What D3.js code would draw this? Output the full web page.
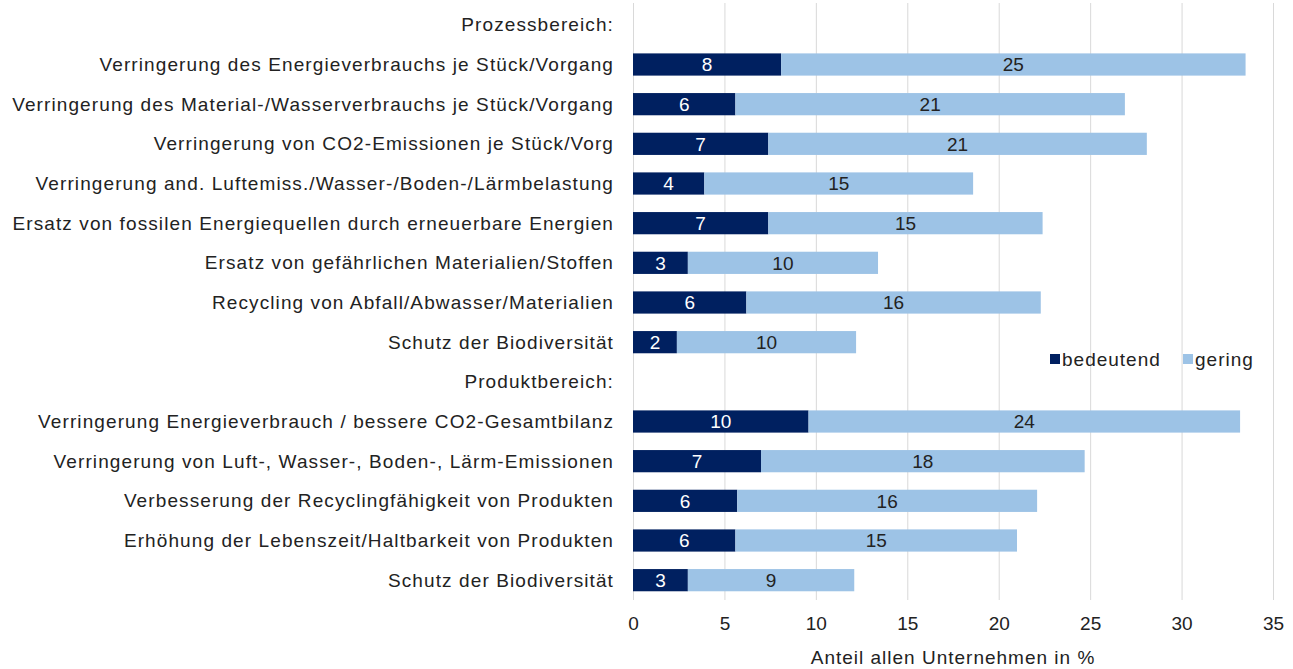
<!DOCTYPE html>
<html>
<head>
<meta charset="utf-8">
<script src="https://cdn.jsdelivr.net/npm/d3@7"></script>
<style>
  body { margin: 0; background: #fff; }
  svg { display: block; font-family: "Liberation Sans", Arial, sans-serif; }
</style>
</head>
<body>
<svg id="chart"></svg>
<script>
// rows from top to bottom; section headers have no values
var categories = [
  "Prozessbereich:",
  "Verringerung des Energieverbrauchs je Stück/Vorgang",
  "Verringerung des Material-/Wasserverbrauchs je Stück/Vorgang",
  "Verringerung von CO2-Emissionen je Stück/Vorg",
  "Verringerung and. Luftemiss./Wasser-/Boden-/Lärmbelastung",
  "Ersatz von fossilen Energiequellen durch erneuerbare Energien",
  "Ersatz von gefährlichen Materialien/Stoffen",
  "Recycling von Abfall/Abwasser/Materialien",
  "Schutz der Biodiversität",
  "Produktbereich:",
  "Verringerung Energieverbrauch / bessere CO2-Gesamtbilanz",
  "Verringerung von Luft-, Wasser-, Boden-, Lärm-Emissionen",
  "Verbesserung der Recyclingfähigkeit von Produkten",
  "Erhöhung der Lebenszeit/Haltbarkeit von Produkten",
  "Schutz der Biodiversität "
];
var bedeutend = [null, 8.1, 5.6, 7.4, 3.9, 7.4, 3.0, 6.2, 2.4, null, 9.6, 7.0, 5.7, 5.6, 3.0];
var gering    = [null, 25.4, 21.3, 20.7, 14.7, 15.0, 10.4, 16.1, 9.8, null, 23.6, 17.7, 16.4, 15.4, 9.1];
var seriesNames = ["bedeutend", "gering"];
var xTicks = [0, 5, 10, 15, 20, 25, 30, 35];
var xTitle = "Anteil allen Unternehmen  in %";

var W = 1293, H = 669;
var colors = ["#002060", "#9dc3e6"];

var svg = d3.select("#chart").attr("width", W).attr("height", H);

var x = d3.scaleLinear().domain([0, 35]).range([633, 1273]);
var y = d3.scaleBand()
    .domain(categories)
    .range([5, 600])
    .paddingInner(0.44)
    .paddingOuter(0.22);

// gridlines + tick labels
var axis = svg.append("g")
    .attr("transform", "translate(0,600)")
    .call(d3.axisBottom(x).tickValues(xTicks).tickSize(-597).tickPadding(17));
axis.select(".domain").remove();
axis.selectAll(".tick line").attr("stroke", "#d9d9d9").attr("stroke-width", 1);
axis.selectAll(".tick text")
    .attr("fill", "#222")
    .style("font-size", "19px")
    .style("font-family", "Liberation Sans, Arial, sans-serif");

svg.append("text")
    .attr("x", (x(0) + x(35)) / 2)
    .attr("y", 664)
    .attr("text-anchor", "middle")
    .attr("fill", "#222")
    .style("font-size", "19px")
    .style("letter-spacing", "1px")
    .text(xTitle);

// category labels
svg.append("g").selectAll("text")
    .data(categories)
    .enter().append("text")
    .attr("x", 614)
    .attr("y", function(d) { return y(d) + y.bandwidth() / 2; })
    .attr("dy", "0.35em")
    .attr("text-anchor", "end")
    .attr("fill", "#222")
    .style("font-size", "19px")
    .style("letter-spacing", "1.1px")
    .text(function(d) { return d; });

var rows = categories.map(function(c, i) {
  return { cat: c, b: bedeutend[i], g: gering[i] };
}).filter(function(d) { return d.b !== null; });

// bars
var bars = svg.append("g");
bars.selectAll(".bar-b")
    .data(rows)
    .enter().append("rect")
    .attr("x", x(0))
    .attr("y", function(d) { return y(d.cat); })
    .attr("width", function(d) { return x(d.b) - x(0); })
    .attr("height", y.bandwidth())
    .attr("fill", colors[0]);

bars.selectAll(".bar-g")
    .data(rows)
    .enter().append("rect")
    .attr("x", function(d) { return x(d.b); })
    .attr("y", function(d) { return y(d.cat); })
    .attr("width", function(d) { return x(d.b + d.g) - x(d.b); })
    .attr("height", y.bandwidth())
    .attr("fill", colors[1]);

// value labels
bars.selectAll(".lab-b")
    .data(rows)
    .enter().append("text")
    .attr("x", function(d) { return (x(0) + x(d.b)) / 2; })
    .attr("y", function(d) { return y(d.cat) + y.bandwidth() / 2; })
    .attr("dy", "0.36em")
    .attr("text-anchor", "middle")
    .attr("fill", "#fff")
    .style("font-size", "19px")
    .text(function(d) { return Math.round(d.b); });

bars.selectAll(".lab-g")
    .data(rows)
    .enter().append("text")
    .attr("x", function(d) { return (x(d.b) + x(d.b + d.g)) / 2; })
    .attr("y", function(d) { return y(d.cat) + y.bandwidth() / 2; })
    .attr("dy", "0.36em")
    .attr("text-anchor", "middle")
    .attr("fill", "#222")
    .style("font-size", "19px")
    .text(function(d) { return Math.round(d.g); });

// legend
var legendX = [1050, 1183];
var legend = svg.append("g").selectAll("g")
    .data(seriesNames)
    .enter().append("g")
    .attr("transform", function(d, i) { return "translate(" + legendX[i] + ",359)"; });
legend.append("rect")
    .attr("x", 0).attr("y", -5)
    .attr("width", 10).attr("height", 10)
    .attr("fill", function(d, i) { return colors[i]; });
legend.append("text")
    .attr("x", 12)
    .attr("dy", "0.35em")
    .attr("fill", "#222")
    .style("font-size", "19px")
    .style("letter-spacing", "1px")
    .text(function(d) { return d; });
</script>
</body>
</html>
